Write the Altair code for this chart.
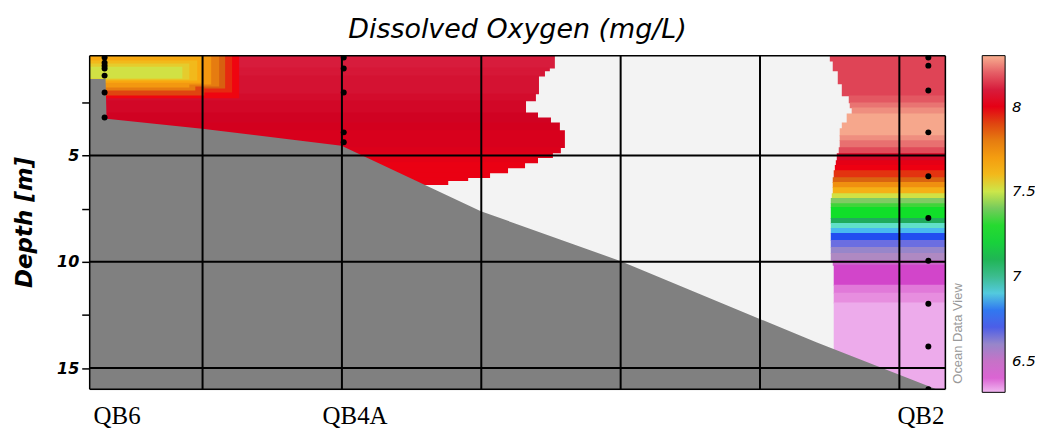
import altair as alt
import pandas as pd

# ---------------- axes / domains ----------------
X_MIN, X_MAX = 0.19, 6.33          # along-section distance (grid every 1 unit)
D_MIN, D_MAX = 0.3, 16.0           # depth [m]
grid_x = [1, 2, 3, 4, 5, 6]
grid_d = [5, 10, 15]
depth_ticks = [2.5, 5, 7.5, 10, 12.5, 15]

# ---------------- colour bar (ODV rainbow) ----------------
cbar_values = [6.316, 6.358, 6.435, 6.494, 6.577, 6.654, 6.755, 6.86, 6.95, 7.04,
               7.13, 7.265, 7.366, 7.425, 7.50, 7.573, 7.66, 7.75, 7.87, 7.976,
               8.047, 8.107, 8.166, 8.225, 8.30]
cbar_colors = ["#f0b8f0", "#e890e0", "#d040c8", "#c870c8", "#a890c0", "#7070e0",
               "#2048f0", "#48b8f0", "#60e0c8", "#20a060", "#20c050", "#10e028",
               "#50d040", "#90c870", "#cce64a", "#f0c020", "#f8a810", "#f09010",
               "#d86010", "#f00010", "#d00020", "#d82040", "#e04858", "#e87070",
               "#f8b090"]
legend_values = [6.5, 7, 7.5, 8]

# ---------------- stations ----------------
station_names = ["QB6", "QB4A", "QB2"]
station_x = [0.297, 2.013, 6.208]
station_label_x = [0.383, 2.091, 6.151]
qb6_depths = [0.39, 0.63, 0.77, 0.91, 1.24, 2.03, 3.21]
qb4a_depths = [0.39, 0.91, 2.03, 3.91, 4.38]
qb2_depths = [0.39, 0.77, 1.94, 3.91, 5.97, 7.94, 9.95, 11.97, 13.98, 16.0]

# ---------------- field: red water body between QB6 and the white gap ----------------
red_top = [0.30, 0.86, 1.00, 1.24, 2.08, 2.41, 2.97, 3.21, 3.44, 3.81, 4.61, 4.85,
           5.08, 5.32, 5.56, 5.79, 6.02, 6.16]
red_bot = [0.86, 1.00, 1.24, 2.08, 2.41, 2.97, 3.21, 3.44, 3.81, 4.61, 4.85, 5.08,
           5.32, 5.56, 5.79, 6.02, 6.16, 6.35]
red_xright = [3.528, 3.492, 3.457, 3.414, 3.392, 3.321, 3.407, 3.500, 3.564, 3.600,
              3.571, 3.514, 3.407, 3.314, 3.192, 3.063, 2.906, 2.763]
red_val = [8.10, 8.09, 8.09, 8.08, 8.07, 8.06, 8.05, 8.05, 8.04, 8.03, 8.02, 8.01,
           8.00, 7.99, 7.99, 7.99, 7.99, 7.99]

# ---------------- field: low-oxygen surface lens at QB6 (outer to inner) ----------------
blob_xright = [1.262, 1.212, 1.162, 1.012, 1.119, 0.948, 1.062, 0.905, 0.998, 0.962,
               0.905, 0.855]
blob_top = [0.30, 0.30, 0.30, 0.30, 0.30, 0.30, 0.30, 0.30, 0.30, 0.53, 0.67, 0.82]
blob_bot = [2.31, 2.03, 1.85, 2.17, 1.75, 1.94, 1.66, 1.80, 1.57, 1.47, 1.42, 1.38]
blob_val = [7.97, 7.93, 7.87, 7.90, 7.80, 7.80, 7.72, 7.72, 7.66, 7.60, 7.55, 7.51]

# ---------------- field: QB2 profile bands ----------------
qb2_top = [0.30, 0.53, 1.00, 1.61, 2.17, 2.50, 2.74, 3.02, 3.44, 3.72, 4.05, 4.28,
           4.61, 4.89, 5.22, 5.45, 5.69, 6.02, 6.25, 6.49, 6.77, 7.00, 7.24, 7.42,
           7.94, 8.17, 8.41, 8.64, 8.97, 9.30, 9.58, 9.91, 10.14, 11.08, 11.45, 11.92]
qb2_bot = [0.53, 1.00, 1.61, 2.17, 2.50, 2.74, 3.02, 3.44, 3.72, 4.05, 4.28, 4.61,
           4.89, 5.22, 5.45, 5.69, 6.02, 6.25, 6.49, 6.77, 7.00, 7.24, 7.42, 7.94,
           8.17, 8.41, 8.64, 8.97, 9.30, 9.58, 9.91, 10.14, 11.08, 11.45, 11.92, 16.0]
qb2_xleft = [5.501, 5.522, 5.558, 5.587, 5.637, 5.644, 5.658, 5.622, 5.587, 5.572,
             5.572, 5.572, 5.565, 5.551, 5.544, 5.537, 5.529, 5.522, 5.522, 5.522,
             5.515, 5.508, 5.508, 5.508, 5.508, 5.508, 5.508, 5.508, 5.508, 5.508,
             5.508, 5.522, 5.529, 5.529, 5.529, 5.529]
qb2_val = [8.16, 8.16, 8.16, 8.16, 8.19, 8.23, 8.26, 8.29, 8.29, 8.29, 8.26, 8.225,
           8.17, 8.06, 8.00, 7.98, 7.92, 7.86, 7.75, 7.63, 7.51, 7.41, 7.34, 7.26,
           7.07, 6.95, 6.86, 6.76, 6.66, 6.60, 6.56, 6.48, 6.43, 6.38, 6.36, 6.33]

# ---------------- bathymetry ----------------
bathy_x = [0.19, 0.304, 0.311, 0.997, 1.997, 2.997, 3.997, 5.404, 6.261, 6.33]
bathy_d = [1.40, 1.40, 3.27, 3.74, 4.54, 7.62, 9.96, 13.79, 15.98, 16.0]

# ---------------- tables ----------------
SEAM = 0.04  # tiny overlap so stacked bands leave no anti-aliasing seam
rows = []
for t, b, xr, v in zip(red_top, red_bot, red_xright, red_val):
    rows.append({"x0": X_MIN, "x1": xr, "d0": t, "d1": b + SEAM, "v": v})
for xr, t, b, v in zip(blob_xright, blob_top, blob_bot, blob_val):
    rows.append({"x0": X_MIN, "x1": xr, "d0": t, "d1": b, "v": v})
for t, b, xl, v in zip(qb2_top, qb2_bot, qb2_xleft, qb2_val):
    rows.append({"x0": xl, "x1": X_MAX, "d0": t, "d1": b + SEAM, "v": v})
field_df = pd.DataFrame(rows)

bathy_df = pd.DataFrame({"x": bathy_x, "d": bathy_d, "bottom": [D_MAX] * len(bathy_x)})

dot_rows = []
for name, sx, deps in zip(station_names, station_x, [qb6_depths, qb4a_depths, qb2_depths]):
    for d in deps:
        dot_rows.append({"station": name, "x": sx, "d": d})
dots_df = pd.DataFrame(dot_rows)

xscale = alt.Scale(domain=[X_MIN, X_MAX], nice=False, zero=False)
yscale = alt.Scale(domain=[D_MIN, D_MAX], nice=False, zero=False, reverse=True)
cscale = alt.Scale(domain=cbar_values, range=cbar_colors, interpolate="rgb")

label_expr = "[" + ",".join("'%s'" % n for n in station_names) + "][indexof([" + \
    ",".join(str(v) for v in station_label_x) + "], datum.value)]"

xaxis = alt.Axis(values=station_label_x, labelExpr=label_expr, ticks=False, tickSize=0,
                 domain=False, grid=False, labelFont="Liberation Serif", labelFontSize=25,
                 labelColor="black", labelBaseline="alphabetic", labelPadding=34,
                 labelFlush=False, labelOverlap=False, title=None)
yaxis = alt.Axis(values=depth_ticks,
                 labelExpr="datum.value % 5 === 0 ? format(datum.value, 'd') : ''",
                 grid=False, domain=False, tickColor="black", tickSize=8, tickWidth=1.5,
                 labelFont="DejaVu Sans", labelFontWeight="bold", labelFontStyle="italic",
                 labelFontSize=16, labelColor="black", labelPadding=3,
                 title="Depth [m]", titleFont="DejaVu Sans", titleFontSize=23,
                 titleFontWeight="bold", titleFontStyle="italic", titleColor="black",
                 titleX=-65, titleY=167, titleAngle=270, titleAlign="center",
                 titleBaseline="middle")

legend = alt.Legend(type="gradient", orient="none", legendX=896, legendY=0,
                    direction="vertical", gradientLength=338, gradientThickness=23,
                    gradientStrokeColor="black", gradientStrokeWidth=1,
                    values=legend_values, format="~g", labelFont="DejaVu Sans",
                    labelFontStyle="italic", labelFontSize=15, labelColor="black",
                    labelOffset=7, padding=0)

X = lambda f: alt.X(f, type="quantitative", scale=xscale, axis=xaxis)
Y = lambda f: alt.Y(f, type="quantitative", scale=yscale, axis=yaxis)

# no-data background of the section
bg = alt.Chart(pd.DataFrame({"x0": [X_MIN], "x1": [X_MAX], "d0": [D_MIN], "d1": [D_MAX]})).mark_rect(
    color="#f3f3f3", stroke=None).encode(
    x=X("x0"), x2="x1", y=Y("d0"), y2="d1")

field = alt.Chart(field_df).mark_rect(clip=True, stroke=None).encode(
    x=X("x0"),
    x2="x1",
    y=Y("d0"),
    y2="d1",
    color=alt.Color("v:Q", scale=cscale, legend=legend, title=None),
)

bathy = alt.Chart(bathy_df).mark_area(color="#808080", opacity=1, clip=True).encode(
    x=X("x"),
    y=Y("d"),
    y2="bottom",
)

vgrid = alt.Chart(pd.DataFrame({"x": grid_x})).mark_rule(color="black", strokeWidth=2).encode(
    x=X("x"))
hgrid = alt.Chart(pd.DataFrame({"d": grid_d})).mark_rule(color="black", strokeWidth=2).encode(
    y=Y("d"))
vframe = alt.Chart(pd.DataFrame({"x": [X_MIN, X_MAX]})).mark_rule(color="black", strokeWidth=1.5).encode(
    x=X("x"))
hframe = alt.Chart(pd.DataFrame({"d": [D_MIN, D_MAX]})).mark_rule(color="black", strokeWidth=1.5).encode(
    y=Y("d"))

dots = alt.Chart(dots_df).mark_circle(color="black", opacity=1, size=36, clip=True).encode(
    x=X("x"),
    y=Y("d"),
)

odv = alt.Chart(pd.DataFrame({"x": [6.423], "d": [13.37], "t": ["Ocean Data View"]})).mark_text(
    angle=270, align="center", baseline="middle", font="Liberation Sans", fontSize=13,
    color="#999999").encode(
    x=X("x"),
    y=Y("d"),
    text="t:N",
)

chart = alt.layer(bg, field, bathy, vgrid, hgrid, vframe, hframe, dots, odv).properties(
    width=859, height=335,
    title=alt.TitleParams("Dissolved Oxygen (mg/L)", font="DejaVu Sans", fontSize=27,
                          fontStyle="italic", fontWeight="normal", color="black",
                          anchor="middle", offset=11),
    padding={"left": 82, "top": 47, "right": 90, "bottom": 42},
    autosize=alt.AutoSizeParams(type="none"),
).configure_view(fill="#f3f3f3", stroke="black", strokeWidth=1.5).configure(background="white")

chart.save("out.html", embed_options={"renderer": "svg", "actions": False})
